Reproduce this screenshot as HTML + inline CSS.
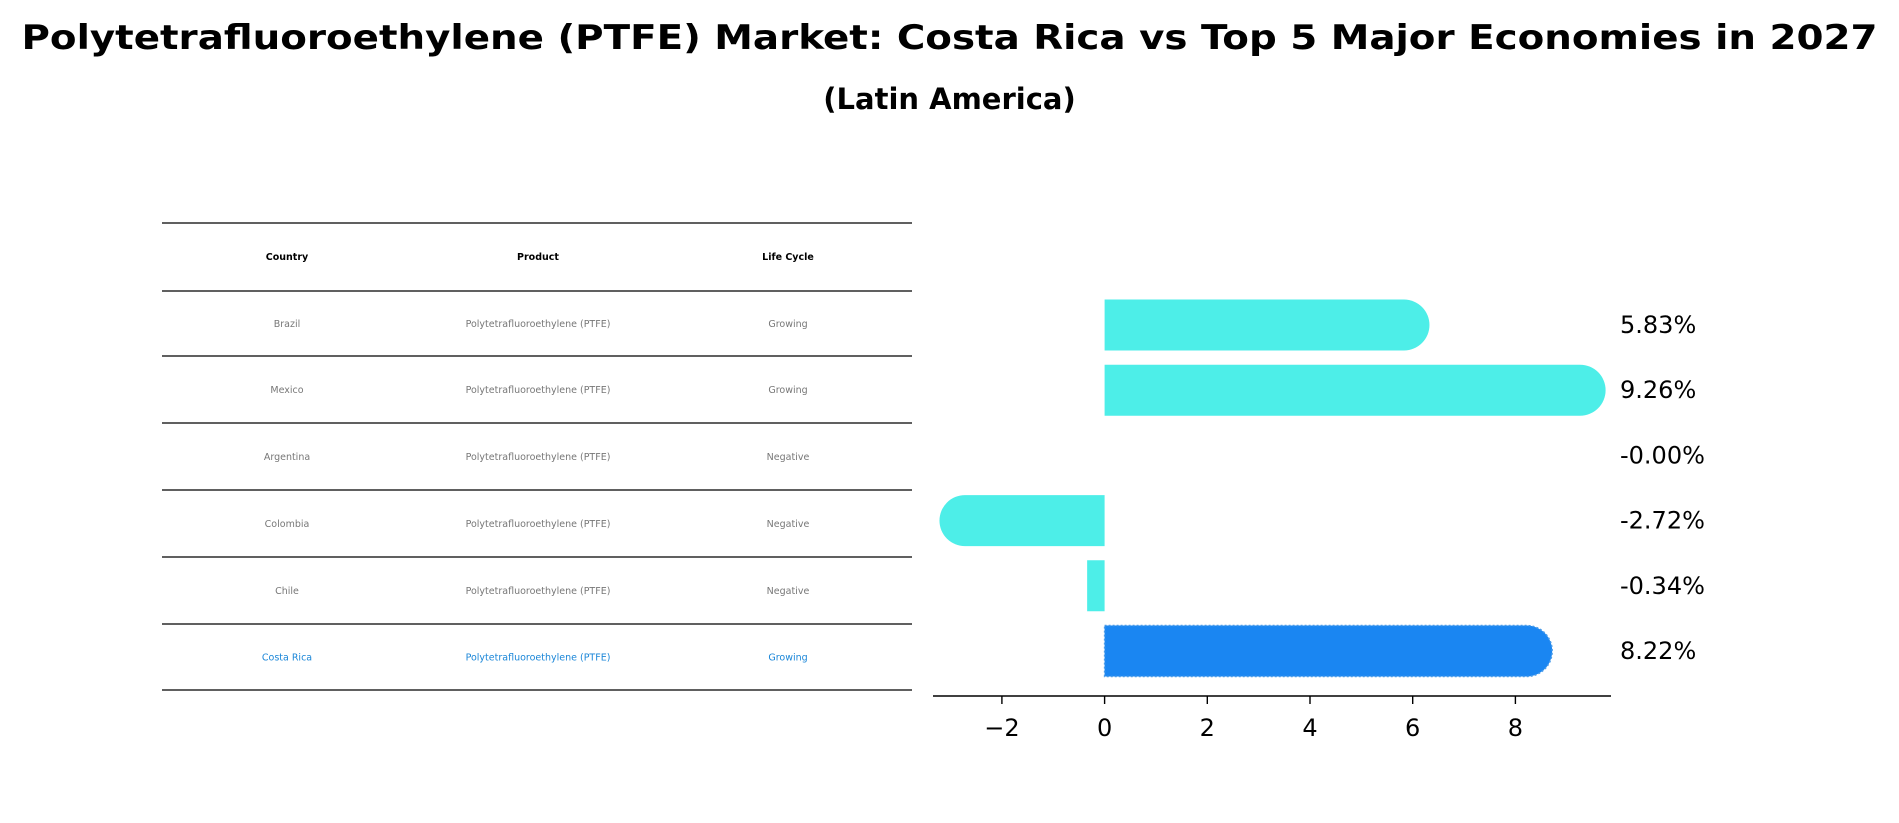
<!DOCTYPE html>
<html><head><meta charset="utf-8"><style>
html,body{margin:0;padding:0;background:#fff;}
svg{display:block;font-family:"DejaVu Sans","Liberation Sans",sans-serif;}
</style></head><body>
<svg id="chart" width="1899" height="823" viewBox="0 0 1899 823">
<text x="949.5" y="49" text-anchor="middle" font-size="34" font-weight="bold" textLength="1856" lengthAdjust="spacingAndGlyphs">Polytetrafluoroethylene (PTFE) Market: Costa Rica vs Top 5 Major Economies in 2027</text>
<text x="949.5" y="109" text-anchor="middle" font-size="29" font-weight="bold">(Latin America)</text>
<g id="table"></g>
<g id="bars"></g>
</svg>
<script>
const countries = ["Brazil","Mexico","Argentina","Colombia","Chile","Costa Rica"];
const products = ["Polytetrafluoroethylene (PTFE)","Polytetrafluoroethylene (PTFE)","Polytetrafluoroethylene (PTFE)","Polytetrafluoroethylene (PTFE)","Polytetrafluoroethylene (PTFE)","Polytetrafluoroethylene (PTFE)"];
const lifeCycles = ["Growing","Growing","Negative","Negative","Negative","Growing"];
const growthValues = [5.83, 9.26, -0.00, -2.72, -0.34, 8.22];
const valueLabels = ["5.83%","9.26%","-0.00%","-2.72%","-0.34%","8.22%"];
const xTicks = [-2, 0, 2, 4, 6, 8];
const xTickLabels = ["\u22122","0","2","4","6","8"];

const NS = "http://www.w3.org/2000/svg";
function mk(tag, attrs, parent){const e=document.createElementNS(NS,tag);for(const k in attrs)e.setAttribute(k,attrs[k]);parent.appendChild(e);return e;}

// table
const tbl = document.getElementById('table');
const lineYs = [223,291,356,423,490,557,624,690];
const colX = [287,538,788];
lineYs.forEach((y,i)=>{
  const l = mk('line',{x1:162,x2:912,y1:y,y2:y,stroke:'#000','stroke-width':1.3},tbl);
  
  
});
["Country","Product","Life Cycle"].forEach((h,j)=>{
  const t = mk('text',{x:colX[j],y:260,'text-anchor':'middle','font-size':9.5,'font-weight':'bold',fill:'#000'},tbl);
  t.textContent=h;
  
  
});
countries.forEach((c,i)=>{
  const y = (lineYs[i+1]+lineYs[i+2])/2 + 3.5;
  const col = c==="Costa Rica" ? '#1a86d8' : '#777';
  [c, products[i], lifeCycles[i]].forEach((v,j)=>{
    const t = mk('text',{x:colX[j],y:y,'text-anchor':'middle','font-size':9.5,fill:col},tbl);
    t.textContent=v;
    
    
  });
});

// bar chart
const g = document.getElementById('bars');
const x0px = 1104.6, unit = 51.35;
const xs = v => x0px + v*unit;
const yTop = 325, step = 65.2, bh = 51;
const ys = i => yTop + i*step;
const axis = mk('line',{x1:933,x2:1611,y1:696,y2:696,stroke:'#000','stroke-width':1.6},g);


xTicks.forEach((t,i)=>{
  const tk = mk('line',{x1:xs(t),x2:xs(t),y1:696,y2:704,stroke:'#000','stroke-width':1.4},g);
  
  
  const lb = mk('text',{x:xs(t),y:736,'text-anchor':'middle','font-size':24,fill:'#000'},g);
  lb.textContent = xTickLabels[i];
  
  
});
growthValues.forEach((v,i)=>{
  const cy = ys(i), r = bh/2;
  const isCR = countries[i]==="Costa Rica";
  const fill = isCR ? '#1a86f2' : '#4deee8';
  const a = xs(0), b = xs(v);
  let d;
  if (Math.abs(v) >= 1) {
    const dir = v>0?1:-1;
    d = `M${a},${cy-r} L${b},${cy-r} A${r},${r} 0 0 ${dir>0?1:0} ${b},${cy+r} L${a},${cy+r} Z`;
  } else if (Math.abs(b-a) > 0.5) {
    d = `M${a},${cy-r} L${b},${cy-r} L${b},${cy+r} L${a},${cy+r} Z`;
  }
  if (d) {
    const p = mk('path',{d:d,fill:fill},g);
    if (isCR){p.setAttribute('stroke','#4a9be8');p.setAttribute('stroke-width',1.5);p.setAttribute('stroke-dasharray','2 2');}
    
    
  }
  const t = mk('text',{x:1620,y:cy+8,'font-size':24,fill:'#000'},g);
  t.textContent = valueLabels[i];
  
  
});
</script>
</body></html>
